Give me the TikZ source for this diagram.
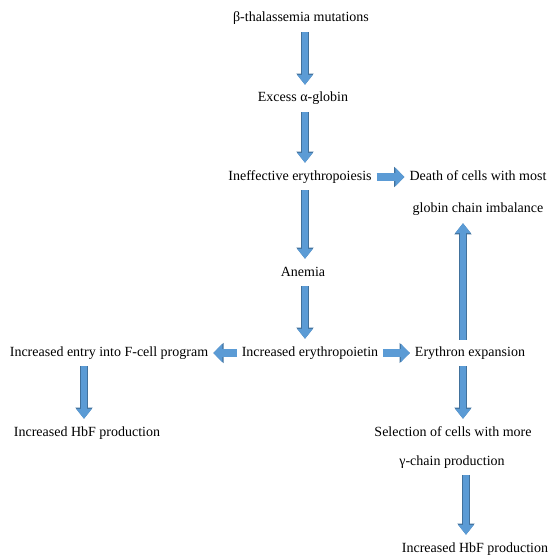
\documentclass[tikz,border=0pt]{standalone}
\usepackage{fontspec}
\setmainfont{Liberation Serif}
\usetikzlibrary{arrows.meta,positioning}
\definecolor{arrowblue}{HTML}{5B9BD5}
\definecolor{arrowedge}{HTML}{41719C}

\begin{document}
\begin{tikzpicture}[
    x=1pt, y=-1pt,
    txt/.style={inner sep=0pt, text height=9pt, text depth=3pt, font=\fontsize{14}{16}\selectfont},
    blk/.style={preaction={draw=arrowedge, line width=7.6pt, -{Triangle[width=16.6pt,length=11.2pt]}},
        line width=6.6pt, arrowblue, -{Triangle[width=15pt,length=10pt]}, shorten <=7pt, shorten >=8pt},
    hblk/.style={preaction={draw=arrowedge, line width=8.6pt, -{Triangle[width=19.6pt,length=10.2pt]}},
        line width=7.6pt, arrowblue, -{Triangle[width=18pt,length=9pt]}, shorten <=5pt, shorten >=5pt}
]
\useasboundingbox (0,0) rectangle (548,559);

% columns for the vertical arrows
\coordinate (mid) at (305,0);
\coordinate (rcol) at (463,0);
\coordinate (lcol) at (84,0);
\coordinate (gcol) at (466,0);

% Main chain
\node[txt] (mut) at (301,19) {β-thalassemia mutations};
\node[txt] (exc) at (303,99) {Excess α-globin};
\node[txt] (ineff) at (300,177) {Ineffective erythropoiesis};
\node[txt] (death) at (478,177) {Death of cells with most};
\node[txt] (glob) at (478,209) {globin chain imbalance};
\node[txt] (anem) at (303,273) {Anemia};
\node[txt] (epo) at (310,353) {Increased erythropoietin};
\node[txt] (fcell) at (109,353) {Increased entry into F-cell program};
\node[txt] (eryth) at (470,353) {Erythron expansion};
\node[txt] (hbfa) at (87,433) {Increased HbF production};
\node[txt] (sel) at (453,433) {Selection of cells with more};
\node[txt] (gam) at (452,462) {γ-chain production};
\node[txt] (hbfb) at (475,549) {Increased HbF production};

% Arrows
\draw[blk] (mut.south -| mid) -- (exc.north -| mid);
\draw[blk] (exc.south -| mid) -- (ineff.north -| mid);
\draw[hblk] (ineff.east) -- (death.west);
\draw[blk] (ineff.south -| mid) -- (anem.north -| mid);
\draw[blk] (anem.south -| mid) -- (epo.north -| mid);
\draw[hblk] (epo.west) -- (fcell.east);
\draw[hblk] (epo.east) -- (eryth.west);
\draw[blk] (eryth.north -| rcol) -- (glob.south -| rcol);
\draw[blk] (fcell.south -| lcol) -- (hbfa.north -| lcol);
\draw[blk] (eryth.south -| rcol) -- (sel.north -| rcol);
\draw[blk] (gam.south -| gcol) -- (hbfb.north -| gcol);

\end{tikzpicture}
\end{document}
